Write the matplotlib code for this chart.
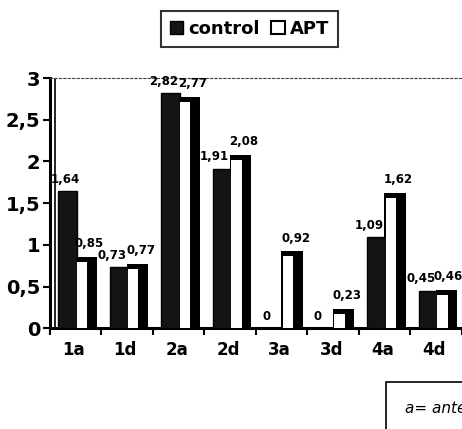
import numpy as np
import matplotlib
matplotlib.use("Agg")
import matplotlib.pyplot as plt
from matplotlib.patches import Patch

plt.rcParams['font.family'] = ['DejaVu Sans']
plt.rcParams['font.weight'] = 'bold'

categories = ['1a', '1d', '2a', '2d', '3a', '3d', '4a', '4d']
control = [1.64, 0.73, 2.82, 1.91, 0, 0, 1.09, 0.45]
apt = [0.85, 0.77, 2.77, 2.08, 0.92, 0.23, 1.62, 0.46]


def fmt(v):
    return ('%g' % v).replace('.', ',')


fig = plt.figure(figsize=(4.62, 4.29), dpi=100)
ax = fig.add_axes([0.108, 0.235, 0.892, 0.583])

x = np.arange(len(categories))
cap = 0.06  # black "top" of the 3D-ish white bars

ax.bar(x - 0.16, control, width=0.36, color='#141414', edgecolor='black', lw=1, zorder=3)
ax.bar(x + 0.2, apt, width=0.42, color='black', zorder=2)
ax.bar(x + 0.12, np.maximum(np.array(apt) - cap, 0), width=0.2, color='white', lw=0, zorder=4)

for i in range(len(categories)):
    # keep the outer labels inside the axes
    cx = max(x[i] - 0.3, -0.2)
    px = min(x[i] + 0.27, 7.24)
    ax.annotate(fmt(control[i]), (cx, control[i]), xytext=(0, 4),
                textcoords='offset points', ha='center', va='bottom',
                fontsize=8.5, fontweight='bold', zorder=6)
    ax.annotate(fmt(apt[i]), (px, apt[i]), xytext=(0, 5),
                textcoords='offset points', ha='center', va='bottom',
                fontsize=8.5, fontweight='bold', zorder=6)

# inner wall line of the 3D frame
ax.axvline(-0.41, color='black', lw=1.2, zorder=1)

ax.set_xlim(-0.5, 7.5)
ax.set_ylim(0, 3)
ax.set_yticks([0, 0.5, 1, 1.5, 2, 2.5, 3])
ax.set_yticklabels(['0', '0,5', '1', '1,5', '2', '2,5', '3'], fontsize=14, fontweight='bold')
ax.set_xticks(np.arange(-0.5, 8, 1))
ax.set_xticklabels([])
ax.set_xticks(x - 0.04, minor=True)
ax.set_xticklabels(categories, minor=True, fontsize=12, fontweight='bold')
ax.tick_params(axis='x', which='minor', length=0, pad=9)
ax.tick_params(axis='x', which='major', length=5, width=1.5)
ax.tick_params(axis='y', length=5, width=1.5, pad=2)
for s in ['left', 'bottom']:
    ax.spines[s].set_linewidth(2.2)
ax.spines['top'].set_linestyle((0, (2, 2)))
ax.spines['top'].set_color('#444444')
ax.spines['right'].set_visible(False)

handles = [Patch(facecolor='#141414', edgecolor='black'),
           Patch(facecolor='white', edgecolor='black', lw=1.5)]
leg = fig.legend(handles, ['control', 'APT'], loc='center', bbox_to_anchor=(0.54, 0.932),
                 ncol=2, frameon=True, fancybox=False, edgecolor='black',
                 prop={'weight': 'bold', 'size': 13}, handlelength=0.75, handleheight=0.75,
                 handletextpad=0.3, columnspacing=0.6, borderpad=0.5)
leg.get_frame().set_linewidth(1.5)

fig.text(0.877, 0.048, 'a= anterior', fontsize=11, style='italic', fontweight='normal',
         va='center', ha='left',
         bbox=dict(facecolor='white', edgecolor='black', lw=1.2, pad=14))

fig.savefig('out.png', dpi=100)
